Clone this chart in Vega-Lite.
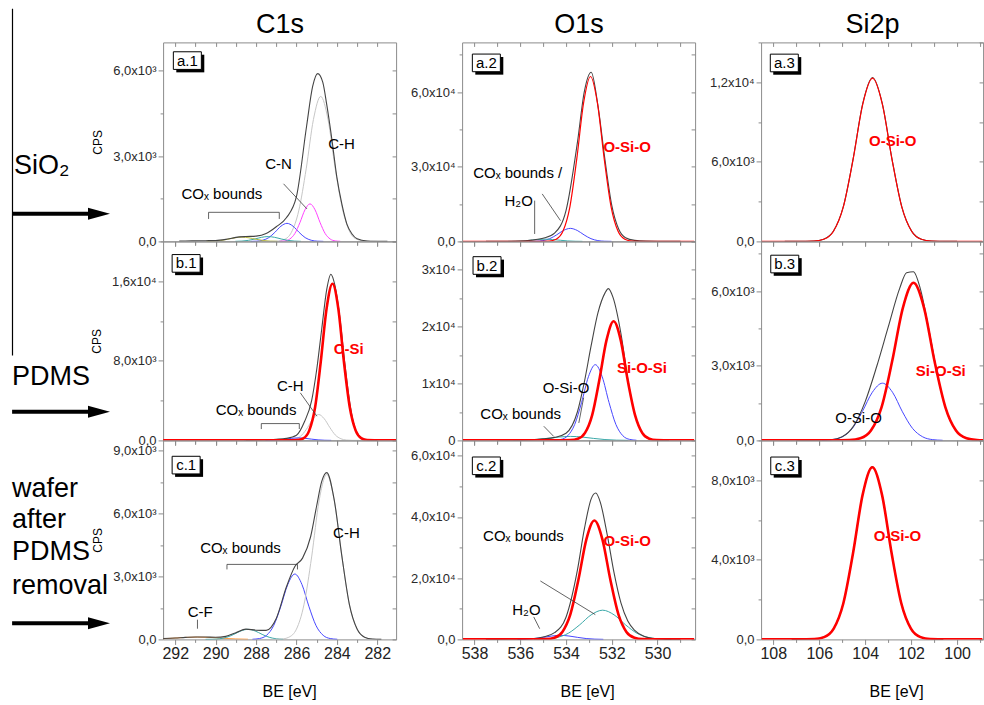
{
"$schema": "https://vega.github.io/schema/vega-lite/v6.json",
"padding": {"left": 10.1, "top": 7.4, "right": 0, "bottom": 0},
"background": "white",
"config": {
  "font": "Liberation Sans",
  "view": {"stroke": "#8c8c8c", "strokeWidth": 1},
  "axis": {"grid": false, "domain": false, "tickColor": "#8c8c8c", "tickWidth": 1, "labelFont": "Liberation Sans", "labelColor": "#2a2a2a", "labelFontSize": 13, "titleFont": "Liberation Sans", "titleFontWeight": "normal", "titleColor": "#000000", "labelOverlap": false, "labelFlush": false},
  "text": {"font": "Liberation Sans"}
},
"datasets": {
  "annot_segs": [
    {"r": "a", "k": "divider", "u": 0.0047, "v": 1.169, "u2": 0.0047, "v2": -0.574},
    {"r": "a", "k": "arrow", "u": 0, "v": 0.139, "u2": 0.944, "v2": 0.139},
    {"r": "b", "k": "arrow", "u": 0, "v": 0.144, "u2": 0.944, "v2": 0.144},
    {"r": "c", "k": "arrow", "u": 0, "v": 0.081, "u2": 0.944, "v2": 0.081}
  ],
  "annot_heads": [
    {"r": "a", "u": 1.027, "v": 0.139}, {"r": "b", "u": 1.027, "v": 0.144}, {"r": "c", "u": 1.027, "v": 0.081}
  ],
  "annot_text": [
    {"r": "a", "t": "SiO₂", "u": 0.0225, "v": 0.38},
    {"r": "b", "t": "PDMS", "u": 0, "v": 0.32},
    {"r": "c", "t": "wafer", "u": 0, "v": 0.757},
    {"r": "c", "t": "after", "u": 0, "v": 0.602},
    {"r": "c", "t": "PDMS", "u": 0, "v": 0.441},
    {"r": "c", "t": "removal", "u": 0, "v": 0.27}
  ],
  "labels": [
    {"p": "a1", "c": "note", "t": "C-H", "be": 283.77, "cps": 3413},
    {"p": "a1", "c": "note", "t": "C-N", "be": 286.89, "cps": 2731},
    {"p": "a1", "c": "note", "t": "COₓ bounds", "be": 289.69, "cps": 1673},
    {"p": "a2", "c": "fit", "t": "O-Si-O", "be": 531.33, "cps": 37850},
    {"p": "a2", "c": "note", "t": "COₓ bounds /", "be": 536.11, "cps": 27380},
    {"p": "a2", "c": "note", "t": "H₂O", "be": 536.07, "cps": 16390},
    {"p": "a3", "c": "fit", "t": "O-Si-O", "be": 102.8, "cps": 7600},
    {"p": "b1", "c": "fit", "t": "C-Si", "be": 283.42, "cps": 9170},
    {"p": "b1", "c": "note", "t": "C-H", "be": 286.31, "cps": 5460},
    {"p": "b1", "c": "note", "t": "COₓ bounds", "be": 288.0, "cps": 3100},
    {"p": "b2", "c": "fit", "t": "Si-O-Si", "be": 530.68, "cps": 12660},
    {"p": "b2", "c": "note", "t": "O-Si-O", "be": 534.0, "cps": 9290},
    {"p": "b2", "c": "note", "t": "COₓ bounds", "be": 535.98, "cps": 4560},
    {"p": "b3", "c": "fit", "t": "Si-O-Si", "be": 100.71, "cps": 2779},
    {"p": "b3", "c": "note", "t": "O-Si-O", "be": 104.29, "cps": 900},
    {"p": "c1", "c": "note", "t": "C-H", "be": 283.53, "cps": 5070},
    {"p": "c1", "c": "note", "t": "COₓ bounds", "be": 288.77, "cps": 4382},
    {"p": "c1", "c": "note", "t": "C-F", "be": 290.76, "cps": 1310},
    {"p": "c2", "c": "fit", "t": "O-Si-O", "be": 531.33, "cps": 32240},
    {"p": "c2", "c": "note", "t": "COₓ bounds", "be": 535.86, "cps": 33660},
    {"p": "c2", "c": "note", "t": "H₂O", "be": 535.73, "cps": 9740},
    {"p": "c3", "c": "fit", "t": "O-Si-O", "be": 102.6, "cps": 5207}
  ],
  "segs": [
    {"p": "a1", "be": 286.64, "cps": 2026, "be2": 285.48, "cps2": 1143},
    {"p": "a1", "be": 290.35, "cps": 1023, "be2": 286.85, "cps2": 1023},
    {"p": "a1", "be": 290.35, "cps": 1023, "be2": 290.35, "cps2": 790},
    {"p": "a1", "be": 286.85, "cps": 1023, "be2": 286.85, "cps2": 790},
    {"p": "a2", "be": 535.37, "cps": 16390, "be2": 535.37, "cps2": 2980},
    {"p": "a2", "be": 535.04, "cps": 19090, "be2": 534.24, "cps2": 8340},
    {"p": "b1", "be": 285.81, "cps": 4780, "be2": 284.99, "cps2": 2430},
    {"p": "b1", "be": 287.74, "cps": 1690, "be2": 285.86, "cps2": 1690},
    {"p": "b1", "be": 287.74, "cps": 1690, "be2": 287.74, "cps2": 1140},
    {"p": "b1", "be": 285.86, "cps": 1690, "be2": 285.86, "cps2": 1140},
    {"p": "b2", "be": 533.44, "cps": 3070, "be2": 533.23, "cps2": 7510},
    {"p": "b2", "be": 534.97, "cps": 2490, "be2": 534.54, "cps2": 710},
    {"p": "c1", "be": 289.44, "cps": 3580, "be2": 285.95, "cps2": 3580},
    {"p": "c1", "be": 289.44, "cps": 3580, "be2": 289.44, "cps2": 3340},
    {"p": "c1", "be": 285.95, "cps": 3580, "be2": 285.95, "cps2": 3340},
    {"p": "c1", "be": 290.9, "cps": 940, "be2": 290.9, "cps2": 510},
    {"p": "c2", "be": 535.12, "cps": 19080, "be2": 532.72, "cps2": 8090},
    {"p": "c2", "be": 535.41, "cps": 7340, "be2": 535.15, "cps2": 3490}
  ],
  "boxes": [
    {"p": "a1", "t": "a.1", "be": 291.4, "cps": 6360},
    {"p": "a2", "t": "a.2", "be": 537.48, "cps": 71760},
    {"p": "a3", "t": "a.3", "be": 107.52, "cps": 13450},
    {"p": "b1", "t": "b.1", "be": 291.46, "cps": 17790},
    {"p": "b2", "t": "b.2", "be": 537.45, "cps": 30760},
    {"p": "b3", "t": "b.3", "be": 107.5, "cps": 7090},
    {"p": "c1", "t": "c.1", "be": 291.46, "cps": 8320},
    {"p": "c2", "t": "c.2", "be": 537.48, "cps": 56700},
    {"p": "c3", "t": "c.3", "be": 107.5, "cps": 8720}
  ],
  "a1": [
    {"s": "ch", "be": 287.5, "cps": 0}, {"s": "ch", "be": 287.0, "cps": 10}, {"s": "ch", "be": 286.6, "cps": 70}, {"s": "ch", "be": 286.25, "cps": 320}, {"s": "ch", "be": 285.89, "cps": 1070}, {"s": "ch", "be": 285.52, "cps": 2550}, {"s": "ch", "be": 285.16, "cps": 4290}, {"s": "ch", "be": 284.8, "cps": 5100}, {"s": "ch", "be": 284.44, "cps": 4290}, {"s": "ch", "be": 284.08, "cps": 2550}, {"s": "ch", "be": 283.7, "cps": 1070}, {"s": "ch", "be": 283.35, "cps": 320}, {"s": "ch", "be": 283.0, "cps": 70}, {"s": "ch", "be": 282.6, "cps": 10}, {"s": "ch", "be": 282.0, "cps": 0},
    {"s": "blue", "be": 288.27, "cps": 1}, {"s": "blue", "be": 287.97, "cps": 8}, {"s": "blue", "be": 287.67, "cps": 40}, {"s": "blue", "be": 287.37, "cps": 133}, {"s": "blue", "be": 287.07, "cps": 318}, {"s": "blue", "be": 286.77, "cps": 534}, {"s": "blue", "be": 286.47, "cps": 635}, {"s": "blue", "be": 286.17, "cps": 534}, {"s": "blue", "be": 285.87, "cps": 318}, {"s": "blue", "be": 285.57, "cps": 133}, {"s": "blue", "be": 285.27, "cps": 40}, {"s": "blue", "be": 284.97, "cps": 8}, {"s": "blue", "be": 284.67, "cps": 1},
    {"s": "magenta", "be": 286.83, "cps": 3}, {"s": "magenta", "be": 286.58, "cps": 17}, {"s": "magenta", "be": 286.33, "cps": 83}, {"s": "magenta", "be": 286.08, "cps": 277}, {"s": "magenta", "be": 285.83, "cps": 660}, {"s": "magenta", "be": 285.58, "cps": 1110}, {"s": "magenta", "be": 285.33, "cps": 1320}, {"s": "magenta", "be": 285.08, "cps": 1110}, {"s": "magenta", "be": 284.83, "cps": 660}, {"s": "magenta", "be": 284.58, "cps": 277}, {"s": "magenta", "be": 284.33, "cps": 83}, {"s": "magenta", "be": 284.08, "cps": 17}, {"s": "magenta", "be": 283.83, "cps": 3},
    {"s": "teal", "be": 289.03, "cps": 2}, {"s": "teal", "be": 288.7, "cps": 11}, {"s": "teal", "be": 288.38, "cps": 36}, {"s": "teal", "be": 288.05, "cps": 85}, {"s": "teal", "be": 287.73, "cps": 143}, {"s": "teal", "be": 287.4, "cps": 170}, {"s": "teal", "be": 287.08, "cps": 143}, {"s": "teal", "be": 286.75, "cps": 85}, {"s": "teal", "be": 286.43, "cps": 36}, {"s": "teal", "be": 286.1, "cps": 11}, {"s": "teal", "be": 285.78, "cps": 2},
    {"s": "olive", "be": 290.45, "cps": 2}, {"s": "olive", "be": 290.1, "cps": 9}, {"s": "olive", "be": 289.75, "cps": 32}, {"s": "olive", "be": 289.4, "cps": 75}, {"s": "olive", "be": 289.05, "cps": 126}, {"s": "olive", "be": 288.7, "cps": 150}, {"s": "olive", "be": 288.35, "cps": 126}, {"s": "olive", "be": 288.0, "cps": 75}, {"s": "olive", "be": 287.65, "cps": 32}, {"s": "olive", "be": 287.3, "cps": 9}, {"s": "olive", "be": 286.95, "cps": 2},
    {"s": "env", "be": 291.8, "cps": 10}, {"s": "env", "be": 291.5, "cps": 15}, {"s": "env", "be": 291.0, "cps": 20}, {"s": "env", "be": 290.5, "cps": 25}, {"s": "env", "be": 290.0, "cps": 30}, {"s": "env", "be": 289.5, "cps": 70}, {"s": "env", "be": 289.0, "cps": 140}, {"s": "env", "be": 288.5, "cps": 170}, {"s": "env", "be": 288.0, "cps": 185}, {"s": "env", "be": 287.5, "cps": 275}, {"s": "env", "be": 287.0, "cps": 515}, {"s": "env", "be": 286.5, "cps": 830}, {"s": "env", "be": 286.0, "cps": 1580}, {"s": "env", "be": 285.5, "cps": 4050}, {"s": "env", "be": 285.2, "cps": 5450}, {"s": "env", "be": 284.95, "cps": 5900}, {"s": "env", "be": 284.7, "cps": 5600}, {"s": "env", "be": 284.5, "cps": 4800}, {"s": "env", "be": 284.25, "cps": 3600}, {"s": "env", "be": 284.0, "cps": 2250}, {"s": "env", "be": 283.75, "cps": 1300}, {"s": "env", "be": 283.5, "cps": 600}, {"s": "env", "be": 283.25, "cps": 260}, {"s": "env", "be": 283.0, "cps": 90}, {"s": "env", "be": 282.5, "cps": 15}, {"s": "env", "be": 282.0, "cps": 5}, {"s": "env", "be": 281.5, "cps": 0}
  ],
  "a2": [
    {"s": "blue", "be": 535.61, "cps": 10}, {"s": "blue", "be": 535.31, "cps": 70}, {"s": "blue", "be": 535.01, "cps": 327}, {"s": "blue", "be": 534.71, "cps": 1100}, {"s": "blue", "be": 534.41, "cps": 2620}, {"s": "blue", "be": 534.11, "cps": 4400}, {"s": "blue", "be": 533.81, "cps": 5235}, {"s": "blue", "be": 533.51, "cps": 4400}, {"s": "blue", "be": 533.21, "cps": 2620}, {"s": "blue", "be": 532.91, "cps": 1100}, {"s": "blue", "be": 532.61, "cps": 327}, {"s": "blue", "be": 532.31, "cps": 70}, {"s": "blue", "be": 532.01, "cps": 10},
    {"s": "teal", "be": 536.53, "cps": 12}, {"s": "teal", "be": 536.2, "cps": 56}, {"s": "teal", "be": 535.88, "cps": 189}, {"s": "teal", "be": 535.55, "cps": 450}, {"s": "teal", "be": 535.23, "cps": 757}, {"s": "teal", "be": 534.9, "cps": 900}, {"s": "teal", "be": 534.58, "cps": 757}, {"s": "teal", "be": 534.25, "cps": 450}, {"s": "teal", "be": 533.93, "cps": 189}, {"s": "teal", "be": 533.6, "cps": 56}, {"s": "teal", "be": 533.28, "cps": 12},
    {"s": "env", "be": 537.5, "cps": 20}, {"s": "env", "be": 537.0, "cps": 30}, {"s": "env", "be": 536.5, "cps": 60}, {"s": "env", "be": 536.0, "cps": 130}, {"s": "env", "be": 535.5, "cps": 520}, {"s": "env", "be": 535.0, "cps": 1250}, {"s": "env", "be": 534.5, "cps": 3360}, {"s": "env", "be": 534.0, "cps": 12400}, {"s": "env", "be": 533.5, "cps": 39900}, {"s": "env", "be": 533.2, "cps": 60200}, {"s": "env", "be": 532.9, "cps": 68000}, {"s": "env", "be": 532.6, "cps": 54300}, {"s": "env", "be": 532.3, "cps": 33000}, {"s": "env", "be": 532.0, "cps": 14500}, {"s": "env", "be": 531.7, "cps": 5000}, {"s": "env", "be": 531.4, "cps": 1500}, {"s": "env", "be": 531.0, "cps": 400}, {"s": "env", "be": 530.5, "cps": 100}, {"s": "env", "be": 530.0, "cps": 30}, {"s": "env", "be": 529.0, "cps": 10},
    {"s": "redthin", "be": 538.5, "cps": 0}, {"s": "redthin", "be": 535.5, "cps": 0}, {"s": "redthin", "be": 534.73, "cps": 129}, {"s": "redthin", "be": 534.43, "cps": 869}, {"s": "redthin", "be": 534.13, "cps": 4144}, {"s": "redthin", "be": 533.83, "cps": 13920}, {"s": "redthin", "be": 533.53, "cps": 33150}, {"s": "redthin", "be": 533.23, "cps": 55760}, {"s": "redthin", "be": 532.93, "cps": 66300}, {"s": "redthin", "be": 532.63, "cps": 55760}, {"s": "redthin", "be": 532.33, "cps": 33150}, {"s": "redthin", "be": 532.03, "cps": 13920}, {"s": "redthin", "be": 531.73, "cps": 4144}, {"s": "redthin", "be": 531.43, "cps": 869}, {"s": "redthin", "be": 531.13, "cps": 129}, {"s": "redthin", "be": 530.5, "cps": 0}, {"s": "redthin", "be": 528.4, "cps": 0}
  ],
  "a3": [
    {"s": "env", "be": 107.5, "cps": 0}, {"s": "env", "be": 107.0, "cps": 5}, {"s": "env", "be": 106.23, "cps": 30}, {"s": "env", "be": 105.805, "cps": 170}, {"s": "env", "be": 105.38, "cps": 780}, {"s": "env", "be": 104.955, "cps": 2600}, {"s": "env", "be": 104.53, "cps": 6180}, {"s": "env", "be": 104.105, "cps": 10400}, {"s": "env", "be": 103.68, "cps": 12350}, {"s": "env", "be": 103.255, "cps": 10380}, {"s": "env", "be": 102.83, "cps": 6170}, {"s": "env", "be": 102.405, "cps": 2590}, {"s": "env", "be": 101.98, "cps": 775}, {"s": "env", "be": 101.555, "cps": 165}, {"s": "env", "be": 101.13, "cps": 28}, {"s": "env", "be": 100.5, "cps": 3}, {"s": "env", "be": 100.0, "cps": 0},
    {"s": "redthin", "be": 108.5, "cps": 0}, {"s": "redthin", "be": 107.0, "cps": 0}, {"s": "redthin", "be": 106.23, "cps": 24}, {"s": "redthin", "be": 105.805, "cps": 161}, {"s": "redthin", "be": 105.38, "cps": 769}, {"s": "redthin", "be": 104.955, "cps": 2583}, {"s": "redthin", "be": 104.53, "cps": 6150}, {"s": "redthin", "be": 104.105, "cps": 10350}, {"s": "redthin", "be": 103.68, "cps": 12300}, {"s": "redthin", "be": 103.255, "cps": 10350}, {"s": "redthin", "be": 102.83, "cps": 6150}, {"s": "redthin", "be": 102.405, "cps": 2583}, {"s": "redthin", "be": 101.98, "cps": 769}, {"s": "redthin", "be": 101.555, "cps": 161}, {"s": "redthin", "be": 101.13, "cps": 24}, {"s": "redthin", "be": 100.4, "cps": 0}, {"s": "redthin", "be": 98.9, "cps": 0}
  ],
  "b1": [
    {"s": "ch", "be": 286.8, "cps": 0}, {"s": "ch", "be": 286.55, "cps": 5}, {"s": "ch", "be": 286.28, "cps": 34}, {"s": "ch", "be": 286.0, "cps": 163}, {"s": "ch", "be": 285.73, "cps": 546}, {"s": "ch", "be": 285.45, "cps": 1300}, {"s": "ch", "be": 285.18, "cps": 2187}, {"s": "ch", "be": 284.9, "cps": 2600}, {"s": "ch", "be": 284.63, "cps": 2187}, {"s": "ch", "be": 284.35, "cps": 1300}, {"s": "ch", "be": 284.08, "cps": 546}, {"s": "ch", "be": 283.8, "cps": 163}, {"s": "ch", "be": 283.53, "cps": 34}, {"s": "ch", "be": 283.25, "cps": 5}, {"s": "ch", "be": 282.9, "cps": 0},
    {"s": "blue", "be": 287.53, "cps": 3}, {"s": "blue", "be": 287.2, "cps": 16}, {"s": "blue", "be": 286.88, "cps": 53}, {"s": "blue", "be": 286.55, "cps": 125}, {"s": "blue", "be": 286.23, "cps": 210}, {"s": "blue", "be": 285.9, "cps": 250}, {"s": "blue", "be": 285.58, "cps": 210}, {"s": "blue", "be": 285.25, "cps": 125}, {"s": "blue", "be": 284.93, "cps": 53}, {"s": "blue", "be": 284.6, "cps": 16}, {"s": "blue", "be": 284.28, "cps": 3},
    {"s": "teal", "be": 288.6, "cps": 5}, {"s": "teal", "be": 288.25, "cps": 17}, {"s": "teal", "be": 287.9, "cps": 40}, {"s": "teal", "be": 287.55, "cps": 67}, {"s": "teal", "be": 287.2, "cps": 80}, {"s": "teal", "be": 286.85, "cps": 67}, {"s": "teal", "be": 286.5, "cps": 40}, {"s": "teal", "be": 286.15, "cps": 17}, {"s": "teal", "be": 285.8, "cps": 5},
    {"s": "env", "be": 288.5, "cps": 20}, {"s": "env", "be": 288.0, "cps": 35}, {"s": "env", "be": 287.5, "cps": 75}, {"s": "env", "be": 287.0, "cps": 115}, {"s": "env", "be": 286.5, "cps": 200}, {"s": "env", "be": 286.0, "cps": 520}, {"s": "env", "be": 285.6, "cps": 1900}, {"s": "env", "be": 285.25, "cps": 4000}, {"s": "env", "be": 285.0, "cps": 7100}, {"s": "env", "be": 284.75, "cps": 11200}, {"s": "env", "be": 284.5, "cps": 15200}, {"s": "env", "be": 284.3, "cps": 16700}, {"s": "env", "be": 284.1, "cps": 15600}, {"s": "env", "be": 283.85, "cps": 12300}, {"s": "env", "be": 283.6, "cps": 7600}, {"s": "env", "be": 283.35, "cps": 3600}, {"s": "env", "be": 283.1, "cps": 1200}, {"s": "env", "be": 282.8, "cps": 280}, {"s": "env", "be": 282.5, "cps": 50}, {"s": "env", "be": 282.0, "cps": 0},
    {"s": "redthick", "be": 292.6, "cps": 0}, {"s": "redthick", "be": 286.6, "cps": 0}, {"s": "redthick", "be": 285.95, "cps": 31}, {"s": "redthick", "be": 285.66, "cps": 206}, {"s": "redthick", "be": 285.37, "cps": 984}, {"s": "redthick", "be": 285.08, "cps": 3305}, {"s": "redthick", "be": 284.8, "cps": 7870}, {"s": "redthick", "be": 284.51, "cps": 13240}, {"s": "redthick", "be": 284.22, "cps": 15740}, {"s": "redthick", "be": 283.93, "cps": 13240}, {"s": "redthick", "be": 283.65, "cps": 7870}, {"s": "redthick", "be": 283.36, "cps": 3305}, {"s": "redthick", "be": 283.07, "cps": 984}, {"s": "redthick", "be": 282.78, "cps": 206}, {"s": "redthick", "be": 282.5, "cps": 31}, {"s": "redthick", "be": 281.8, "cps": 0}, {"s": "redthick", "be": 281.07, "cps": 0}
  ],
  "b2": [
    {"s": "teal", "be": 536.3, "cps": 9}, {"s": "teal", "be": 535.8, "cps": 44}, {"s": "teal", "be": 535.3, "cps": 147}, {"s": "teal", "be": 534.8, "cps": 350}, {"s": "teal", "be": 534.3, "cps": 589}, {"s": "teal", "be": 533.8, "cps": 700}, {"s": "teal", "be": 533.3, "cps": 589}, {"s": "teal", "be": 532.8, "cps": 350}, {"s": "teal", "be": 532.3, "cps": 147}, {"s": "teal", "be": 531.8, "cps": 44}, {"s": "teal", "be": 531.3, "cps": 9},
    {"s": "blue", "be": 534.52, "cps": 26}, {"s": "blue", "be": 534.22, "cps": 175}, {"s": "blue", "be": 533.92, "cps": 833}, {"s": "blue", "be": 533.62, "cps": 2800}, {"s": "blue", "be": 533.32, "cps": 6660}, {"s": "blue", "be": 533.02, "cps": 11200}, {"s": "blue", "be": 532.72, "cps": 13320}, {"s": "blue", "be": 532.42, "cps": 11200}, {"s": "blue", "be": 532.12, "cps": 6660}, {"s": "blue", "be": 531.82, "cps": 2800}, {"s": "blue", "be": 531.52, "cps": 833}, {"s": "blue", "be": 531.22, "cps": 175}, {"s": "blue", "be": 530.92, "cps": 26},
    {"s": "env", "be": 537.0, "cps": 15}, {"s": "env", "be": 536.5, "cps": 25}, {"s": "env", "be": 536.0, "cps": 45}, {"s": "env", "be": 535.5, "cps": 110}, {"s": "env", "be": 535.0, "cps": 270}, {"s": "env", "be": 534.5, "cps": 530}, {"s": "env", "be": 534.0, "cps": 1260}, {"s": "env", "be": 533.5, "cps": 5040}, {"s": "env", "be": 533.2, "cps": 10250}, {"s": "env", "be": 532.9, "cps": 16700}, {"s": "env", "be": 532.6, "cps": 22500}, {"s": "env", "be": 532.3, "cps": 25900}, {"s": "env", "be": 532.15, "cps": 26700}, {"s": "env", "be": 531.95, "cps": 25200}, {"s": "env", "be": 531.6, "cps": 18800}, {"s": "env", "be": 531.3, "cps": 10800}, {"s": "env", "be": 531.0, "cps": 4700}, {"s": "env", "be": 530.7, "cps": 1500}, {"s": "env", "be": 530.4, "cps": 350}, {"s": "env", "be": 530.0, "cps": 40}, {"s": "env", "be": 529.5, "cps": 10},
    {"s": "redthick", "be": 538.5, "cps": 0}, {"s": "redthick", "be": 534.5, "cps": 0}, {"s": "redthick", "be": 533.8, "cps": 41}, {"s": "redthick", "be": 533.48, "cps": 275}, {"s": "redthick", "be": 533.17, "cps": 1310}, {"s": "redthick", "be": 532.86, "cps": 4400}, {"s": "redthick", "be": 532.55, "cps": 10480}, {"s": "redthick", "be": 532.23, "cps": 17630}, {"s": "redthick", "be": 531.92, "cps": 20960}, {"s": "redthick", "be": 531.61, "cps": 17630}, {"s": "redthick", "be": 531.3, "cps": 10480}, {"s": "redthick", "be": 530.98, "cps": 4400}, {"s": "redthick", "be": 530.67, "cps": 1310}, {"s": "redthick", "be": 530.36, "cps": 275}, {"s": "redthick", "be": 530.05, "cps": 41}, {"s": "redthick", "be": 529.4, "cps": 0}, {"s": "redthick", "be": 528.4, "cps": 0}
  ],
  "b3": [
    {"s": "blue", "be": 105.88, "cps": 4}, {"s": "blue", "be": 105.44, "cps": 30}, {"s": "blue", "be": 105.0, "cps": 144}, {"s": "blue", "be": 104.56, "cps": 483}, {"s": "blue", "be": 104.13, "cps": 1150}, {"s": "blue", "be": 103.69, "cps": 1934}, {"s": "blue", "be": 103.25, "cps": 2300}, {"s": "blue", "be": 102.81, "cps": 1934}, {"s": "blue", "be": 102.38, "cps": 1150}, {"s": "blue", "be": 101.94, "cps": 483}, {"s": "blue", "be": 101.5, "cps": 144}, {"s": "blue", "be": 101.06, "cps": 30}, {"s": "blue", "be": 100.63, "cps": 4},
    {"s": "env", "be": 107.0, "cps": 0}, {"s": "env", "be": 106.0, "cps": 5}, {"s": "env", "be": 105.5, "cps": 24}, {"s": "env", "be": 105.0, "cps": 147}, {"s": "env", "be": 104.5, "cps": 585}, {"s": "env", "be": 104.0, "cps": 1560}, {"s": "env", "be": 103.5, "cps": 2970}, {"s": "env", "be": 103.0, "cps": 4550}, {"s": "env", "be": 102.5, "cps": 6110}, {"s": "env", "be": 102.2, "cps": 6740}, {"s": "env", "be": 101.9, "cps": 6780}, {"s": "env", "be": 101.6, "cps": 6090}, {"s": "env", "be": 101.2, "cps": 4310}, {"s": "env", "be": 100.8, "cps": 2380}, {"s": "env", "be": 100.4, "cps": 1020}, {"s": "env", "be": 100.0, "cps": 340}, {"s": "env", "be": 99.5, "cps": 60}, {"s": "env", "be": 99.0, "cps": 5},
    {"s": "redthick", "be": 108.5, "cps": 0}, {"s": "redthick", "be": 105.4, "cps": 0}, {"s": "redthick", "be": 104.68, "cps": 12}, {"s": "redthick", "be": 104.21, "cps": 83}, {"s": "redthick", "be": 103.75, "cps": 396}, {"s": "redthick", "be": 103.29, "cps": 1330}, {"s": "redthick", "be": 102.83, "cps": 3168}, {"s": "redthick", "be": 102.36, "cps": 5330}, {"s": "redthick", "be": 101.9, "cps": 6335}, {"s": "redthick", "be": 101.44, "cps": 5330}, {"s": "redthick", "be": 100.98, "cps": 3168}, {"s": "redthick", "be": 100.51, "cps": 1330}, {"s": "redthick", "be": 100.05, "cps": 396}, {"s": "redthick", "be": 99.59, "cps": 83}, {"s": "redthick", "be": 99.13, "cps": 12}, {"s": "redthick", "be": 98.87, "cps": 3}
  ],
  "c1": [
    {"s": "orange", "be": 292.6, "cps": 31}, {"s": "orange", "be": 292.15, "cps": 55}, {"s": "orange", "be": 291.53, "cps": 93}, {"s": "orange", "be": 290.9, "cps": 110}, {"s": "orange", "be": 290.28, "cps": 93}, {"s": "orange", "be": 289.65, "cps": 55}, {"s": "orange", "be": 289.03, "cps": 23}, {"s": "orange", "be": 288.4, "cps": 7},
    {"s": "teal", "be": 290.5, "cps": 1}, {"s": "teal", "be": 290.15, "cps": 6}, {"s": "teal", "be": 289.8, "cps": 30}, {"s": "teal", "be": 289.45, "cps": 101}, {"s": "teal", "be": 289.1, "cps": 240}, {"s": "teal", "be": 288.75, "cps": 404}, {"s": "teal", "be": 288.4, "cps": 480}, {"s": "teal", "be": 288.05, "cps": 404}, {"s": "teal", "be": 287.7, "cps": 240}, {"s": "teal", "be": 287.35, "cps": 101}, {"s": "teal", "be": 287.0, "cps": 30}, {"s": "teal", "be": 286.65, "cps": 6},
    {"s": "blue", "be": 288.18, "cps": 6}, {"s": "blue", "be": 287.83, "cps": 41}, {"s": "blue", "be": 287.48, "cps": 195}, {"s": "blue", "be": 287.13, "cps": 655}, {"s": "blue", "be": 286.78, "cps": 1560}, {"s": "blue", "be": 286.43, "cps": 2624}, {"s": "blue", "be": 286.08, "cps": 3120}, {"s": "blue", "be": 285.73, "cps": 2624}, {"s": "blue", "be": 285.38, "cps": 1560}, {"s": "blue", "be": 285.03, "cps": 655}, {"s": "blue", "be": 284.68, "cps": 195}, {"s": "blue", "be": 284.33, "cps": 41}, {"s": "blue", "be": 283.98, "cps": 6},
    {"s": "ch", "be": 287.2, "cps": 0}, {"s": "ch", "be": 286.75, "cps": 15}, {"s": "ch", "be": 286.38, "cps": 103}, {"s": "ch", "be": 286.0, "cps": 492}, {"s": "ch", "be": 285.63, "cps": 1653}, {"s": "ch", "be": 285.25, "cps": 3935}, {"s": "ch", "be": 284.88, "cps": 6620}, {"s": "ch", "be": 284.5, "cps": 7870}, {"s": "ch", "be": 284.13, "cps": 6620}, {"s": "ch", "be": 283.75, "cps": 3935}, {"s": "ch", "be": 283.38, "cps": 1653}, {"s": "ch", "be": 283.0, "cps": 492}, {"s": "ch", "be": 282.63, "cps": 103}, {"s": "ch", "be": 282.25, "cps": 15}, {"s": "ch", "be": 281.8, "cps": 0},
    {"s": "env", "be": 292.6, "cps": 40}, {"s": "env", "be": 292.0, "cps": 65}, {"s": "env", "be": 291.5, "cps": 95}, {"s": "env", "be": 291.0, "cps": 115}, {"s": "env", "be": 290.5, "cps": 112}, {"s": "env", "be": 290.0, "cps": 100}, {"s": "env", "be": 289.5, "cps": 145}, {"s": "env", "be": 289.0, "cps": 320}, {"s": "env", "be": 288.5, "cps": 490}, {"s": "env", "be": 288.0, "cps": 440}, {"s": "env", "be": 287.5, "cps": 430}, {"s": "env", "be": 287.0, "cps": 1000}, {"s": "env", "be": 286.5, "cps": 2500}, {"s": "env", "be": 286.08, "cps": 3480}, {"s": "env", "be": 285.7, "cps": 3880}, {"s": "env", "be": 285.3, "cps": 4900}, {"s": "env", "be": 285.0, "cps": 6380}, {"s": "env", "be": 284.75, "cps": 7540}, {"s": "env", "be": 284.5, "cps": 7960}, {"s": "env", "be": 284.13, "cps": 6650}, {"s": "env", "be": 283.75, "cps": 3950}, {"s": "env", "be": 283.38, "cps": 1660}, {"s": "env", "be": 283.0, "cps": 495}, {"s": "env", "be": 282.63, "cps": 105}, {"s": "env", "be": 282.25, "cps": 16}, {"s": "env", "be": 281.8, "cps": 0}
  ],
  "c2": [
    {"s": "blue", "be": 536.12, "cps": 17}, {"s": "blue", "be": 535.74, "cps": 82}, {"s": "blue", "be": 535.37, "cps": 276}, {"s": "blue", "be": 534.99, "cps": 658}, {"s": "blue", "be": 534.62, "cps": 1107}, {"s": "blue", "be": 534.24, "cps": 1316}, {"s": "blue", "be": 533.87, "cps": 1107}, {"s": "blue", "be": 533.49, "cps": 658}, {"s": "blue", "be": 533.12, "cps": 276}, {"s": "blue", "be": 532.74, "cps": 82}, {"s": "blue", "be": 532.37, "cps": 17},
    {"s": "teal", "be": 535.4, "cps": 19}, {"s": "teal", "be": 534.9, "cps": 125}, {"s": "teal", "be": 534.4, "cps": 596}, {"s": "teal", "be": 533.9, "cps": 2003}, {"s": "teal", "be": 533.4, "cps": 4770}, {"s": "teal", "be": 532.9, "cps": 8023}, {"s": "teal", "be": 532.4, "cps": 9540}, {"s": "teal", "be": 531.9, "cps": 8023}, {"s": "teal", "be": 531.4, "cps": 4770}, {"s": "teal", "be": 530.9, "cps": 2003}, {"s": "teal", "be": 530.4, "cps": 596}, {"s": "teal", "be": 529.9, "cps": 125}, {"s": "teal", "be": 529.4, "cps": 19},
    {"s": "env", "be": 537.5, "cps": 10}, {"s": "env", "be": 537.0, "cps": 15}, {"s": "env", "be": 536.5, "cps": 22}, {"s": "env", "be": 536.0, "cps": 40}, {"s": "env", "be": 535.5, "cps": 200}, {"s": "env", "be": 535.0, "cps": 770}, {"s": "env", "be": 534.5, "cps": 2200}, {"s": "env", "be": 534.0, "cps": 7250}, {"s": "env", "be": 533.5, "cps": 22700}, {"s": "env", "be": 533.2, "cps": 36000}, {"s": "env", "be": 532.9, "cps": 45900}, {"s": "env", "be": 532.7, "cps": 47800}, {"s": "env", "be": 532.5, "cps": 44750}, {"s": "env", "be": 532.2, "cps": 34200}, {"s": "env", "be": 531.9, "cps": 21700}, {"s": "env", "be": 531.6, "cps": 11900}, {"s": "env", "be": 531.3, "cps": 6000}, {"s": "env", "be": 531.0, "cps": 2950}, {"s": "env", "be": 530.6, "cps": 1060}, {"s": "env", "be": 530.2, "cps": 330}, {"s": "env", "be": 529.8, "cps": 90}, {"s": "env", "be": 529.4, "cps": 20}, {"s": "env", "be": 529.0, "cps": 5},
    {"s": "redthick", "be": 538.5, "cps": 0}, {"s": "redthick", "be": 535.6, "cps": 0}, {"s": "redthick", "be": 534.86, "cps": 76}, {"s": "redthick", "be": 534.51, "cps": 509}, {"s": "redthick", "be": 534.16, "cps": 2426}, {"s": "redthick", "be": 533.81, "cps": 8150}, {"s": "redthick", "be": 533.46, "cps": 19410}, {"s": "redthick", "be": 533.11, "cps": 32650}, {"s": "redthick", "be": 532.76, "cps": 38820}, {"s": "redthick", "be": 532.41, "cps": 32650}, {"s": "redthick", "be": 532.06, "cps": 19410}, {"s": "redthick", "be": 531.71, "cps": 8150}, {"s": "redthick", "be": 531.36, "cps": 2426}, {"s": "redthick", "be": 531.01, "cps": 509}, {"s": "redthick", "be": 530.66, "cps": 76}, {"s": "redthick", "be": 529.9, "cps": 0}, {"s": "redthick", "be": 528.4, "cps": 0}
  ],
  "c3": [
    {"s": "env", "be": 107.2, "cps": 0}, {"s": "env", "be": 106.21, "cps": 20}, {"s": "env", "be": 105.79, "cps": 118}, {"s": "env", "be": 105.37, "cps": 550}, {"s": "env", "be": 104.95, "cps": 1830}, {"s": "env", "be": 104.53, "cps": 4340}, {"s": "env", "be": 104.11, "cps": 7290}, {"s": "env", "be": 103.69, "cps": 8680}, {"s": "env", "be": 103.27, "cps": 7290}, {"s": "env", "be": 102.85, "cps": 4340}, {"s": "env", "be": 102.43, "cps": 1830}, {"s": "env", "be": 102.01, "cps": 550}, {"s": "env", "be": 101.59, "cps": 118}, {"s": "env", "be": 101.17, "cps": 20}, {"s": "env", "be": 100.6, "cps": 0},
    {"s": "redthick", "be": 108.5, "cps": 0}, {"s": "redthick", "be": 106.9, "cps": 0}, {"s": "redthick", "be": 106.21, "cps": 17}, {"s": "redthick", "be": 105.79, "cps": 113}, {"s": "redthick", "be": 105.37, "cps": 541}, {"s": "redthick", "be": 104.95, "cps": 1817}, {"s": "redthick", "be": 104.53, "cps": 4325}, {"s": "redthick", "be": 104.11, "cps": 7275}, {"s": "redthick", "be": 103.69, "cps": 8650}, {"s": "redthick", "be": 103.27, "cps": 7275}, {"s": "redthick", "be": 102.85, "cps": 4325}, {"s": "redthick", "be": 102.43, "cps": 1817}, {"s": "redthick", "be": 102.01, "cps": 541}, {"s": "redthick", "be": 101.59, "cps": 113}, {"s": "redthick", "be": 101.17, "cps": 17}, {"s": "redthick", "be": 100.5, "cps": 0}, {"s": "redthick", "be": 98.9, "cps": 0}
  ]
},
"columns": 4,
"spacing": {"row": 0, "column": 66},
"bounds": "flush",
"concat": [
  {
    "width": 84.6, "height": 199, "view": {"stroke": null},
    "encoding": {
      "x": {"field": "u", "type": "quantitative", "scale": {"domain": [0, 1], "nice": false, "zero": false}, "axis": null},
      "y": {"field": "v", "type": "quantitative", "scale": {"domain": [0, 1], "nice": false, "zero": false}, "axis": null}
    },
    "layer": [
      {"data": {"name": "annot_segs"}, "transform": [{"filter": "datum.r == 'a' && datum.k == 'divider'"}], "mark": {"type": "rule", "color": "#000000", "strokeWidth": 1.2}, "encoding": {"x2": {"field": "u2"}, "y2": {"field": "v2"}}},
      {"data": {"name": "annot_segs"}, "transform": [{"filter": "datum.r == 'a' && datum.k == 'arrow'"}], "mark": {"type": "rule", "color": "#000000", "strokeWidth": 4}, "encoding": {"x2": {"field": "u2"}, "y2": {"field": "v2"}}},
      {"data": {"name": "annot_heads"}, "transform": [{"filter": "datum.r == 'a'"}], "mark": {"type": "point", "shape": "M-1,-0.55L1,0L-1,0.55Z", "size": 484, "filled": true, "color": "#000000", "opacity": 1}},
      {"data": {"name": "annot_text"}, "transform": [{"filter": "datum.r == 'a'"}], "mark": {"type": "text", "fontSize": 27, "align": "left", "baseline": "middle", "color": "#000000"}, "encoding": {"text": {"field": "t"}}}
    ]
  },
  {
    "width": 233, "height": 199,
    "layer": [
      {
        "encoding": {
          "x": {"field": "be", "type": "quantitative", "scale": {"domain": [281.07, 292.6], "reverse": true, "nice": false, "zero": false}, "axis": {"values": [282,283,284,285,286,287,288,289,290,291,292], "labels": false, "title": null, "tickSize": {"condition": {"test": "datum.value % 2 != 0", "value": 3}, "value": 5}}},
          "y": {"field": "cps", "type": "quantitative", "scale": {"domain": [0, 7000], "nice": false, "zero": false}, "axis": {"values": [0,1500,3000,4500,6000], "labelExpr": "datum.value == 0 ? '0,0' : datum.value == 3000 ? '3,0x10³' : datum.value == 6000 ? '6,0x10³' : ''", "tickSize": {"condition": {"test": "datum.value % 3000 != 0", "value": 3}, "value": 5}, "labelPadding": 2, "title": "CPS", "titleFontSize": 12, "titlePadding": 8}}
        },
        "layer": [
          {"data": {"name": "a1"}, "mark": {"type": "line", "interpolate": "monotone", "clip": true}, "encoding": {"color": {"field": "s", "type": "nominal", "legend": null, "scale": {"domain": ["ch","blue","magenta","teal","olive","orange","env","redthin","redthick"], "range": ["#c6c6c6","#4646ff","#ff40ff","#3aa8a8","#b8b83c","#ff9a3c","#444444","#ff0000","#ff0000"]}}, "strokeWidth": {"field": "s", "type": "nominal", "legend": null, "scale": {"type": "ordinal", "domain": ["ch","blue","magenta","teal","olive","orange","env","redthin","redthick"], "range": [1,1,1,1,1,1,1.1,1.2,2.6]}}}},
          {"data": {"name": "segs"}, "transform": [{"filter": "datum.p == 'a1'"}], "mark": {"type": "rule", "color": "#3c3c3c", "strokeWidth": 0.8}, "encoding": {"x2": {"field": "be2"}, "y2": {"field": "cps2"}}},
          {"data": {"name": "labels"}, "transform": [{"filter": "datum.p == 'a1' && datum.c == 'note'"}], "mark": {"type": "text", "fontSize": 15, "color": "#000000", "align": "center", "baseline": "middle"}, "encoding": {"text": {"field": "t"}}},
          {"data": {"name": "boxes"}, "transform": [{"filter": "datum.p == 'a1'"}], "mark": {"type": "point", "shape": "M-0.79,-0.42L1.21,-0.42L1.21,0.84L-0.79,0.84Z", "size": 784, "filled": true, "color": "#000000", "opacity": 1, "strokeWidth": 0}},
          {"data": {"name": "boxes"}, "transform": [{"filter": "datum.p == 'a1'"}], "mark": {"type": "point", "shape": "M-1,-0.63L1,-0.63L1,0.63L-1,0.63Z", "size": 784, "filled": true, "fill": "#ffffff", "stroke": "#000000", "strokeWidth": 1, "opacity": 1}},
          {"data": {"name": "boxes"}, "transform": [{"filter": "datum.p == 'a1'"}], "mark": {"type": "text", "fontSize": 15, "color": "#000000", "align": "center", "baseline": "middle"}, "encoding": {"text": {"field": "t"}}}
        ]
      },
      {
        "data": {"values": [{}]},
        "mark": {"type": "point", "opacity": 0},
        "encoding": {
          "x": {"datum": 290, "type": "quantitative", "scale": {"domain": [281.07, 292.6], "reverse": true, "nice": false, "zero": false}, "axis": {"orient": "top", "values": [282,283,284,285,286,287,288,289,290,291,292], "labels": false, "tickSize": -4, "title": "C1s", "titleFontSize": 27, "titlePadding": 9, "titleBaseline": "alphabetic"}},
          "y": {"datum": 0, "type": "quantitative", "scale": {"domain": [0, 7000], "nice": false, "zero": false}, "axis": {"orient": "right", "values": [0,1500,3000,4500,6000], "labels": false, "title": null, "tickSize": -4}}
        }
      }
    ],
    "resolve": {"axis": {"x": "independent", "y": "independent"}}
  },
  {
    "width": 233, "height": 199,
    "layer": [
      {
        "encoding": {
          "x": {"field": "be", "type": "quantitative", "scale": {"domain": [528.36, 538.54], "reverse": true, "nice": false, "zero": false}, "axis": {"values": [529,530,531,532,533,534,535,536,537,538], "labels": false, "title": null, "tickSize": {"condition": {"test": "datum.value % 2 != 0", "value": 3}, "value": 5}}},
          "y": {"field": "cps", "type": "quantitative", "scale": {"domain": [0, 80000], "nice": false, "zero": false}, "axis": {"values": [0,15000,30000,45000,60000,75000], "labelExpr": "datum.value == 0 ? '0,0' : datum.value == 30000 ? '3,0x10⁴' : datum.value == 60000 ? '6,0x10⁴' : ''", "tickSize": {"condition": {"test": "datum.value % 30000 != 0", "value": 3}, "value": 5}, "labelPadding": 2, "title": null}}
        },
        "layer": [
          {"data": {"name": "a2"}, "mark": {"type": "line", "interpolate": "monotone", "clip": true}, "encoding": {"color": {"field": "s", "type": "nominal", "legend": null, "scale": {"domain": ["ch","blue","magenta","teal","olive","orange","env","redthin","redthick"], "range": ["#c6c6c6","#4646ff","#ff40ff","#3aa8a8","#b8b83c","#ff9a3c","#444444","#ff0000","#ff0000"]}}, "strokeWidth": {"field": "s", "type": "nominal", "legend": null, "scale": {"type": "ordinal", "domain": ["ch","blue","magenta","teal","olive","orange","env","redthin","redthick"], "range": [1,1,1,1,1,1,1.1,1.2,2.6]}}}},
          {"data": {"name": "segs"}, "transform": [{"filter": "datum.p == 'a2'"}], "mark": {"type": "rule", "color": "#3c3c3c", "strokeWidth": 0.8}, "encoding": {"x2": {"field": "be2"}, "y2": {"field": "cps2"}}},
          {"data": {"name": "labels"}, "transform": [{"filter": "datum.p == 'a2' && datum.c == 'note'"}], "mark": {"type": "text", "fontSize": 15, "color": "#000000", "align": "center", "baseline": "middle"}, "encoding": {"text": {"field": "t"}}},
          {"data": {"name": "labels"}, "transform": [{"filter": "datum.p == 'a2' && datum.c == 'fit'"}], "mark": {"type": "text", "fontSize": 15, "fontWeight": "bold", "color": "#ff0000", "align": "center", "baseline": "middle"}, "encoding": {"text": {"field": "t"}}},
          {"data": {"name": "boxes"}, "transform": [{"filter": "datum.p == 'a2'"}], "mark": {"type": "point", "shape": "M-0.79,-0.42L1.21,-0.42L1.21,0.84L-0.79,0.84Z", "size": 784, "filled": true, "color": "#000000", "opacity": 1, "strokeWidth": 0}},
          {"data": {"name": "boxes"}, "transform": [{"filter": "datum.p == 'a2'"}], "mark": {"type": "point", "shape": "M-1,-0.63L1,-0.63L1,0.63L-1,0.63Z", "size": 784, "filled": true, "fill": "#ffffff", "stroke": "#000000", "strokeWidth": 1, "opacity": 1}},
          {"data": {"name": "boxes"}, "transform": [{"filter": "datum.p == 'a2'"}], "mark": {"type": "text", "fontSize": 15, "color": "#000000", "align": "center", "baseline": "middle"}, "encoding": {"text": {"field": "t"}}}
        ]
      },
      {
        "data": {"values": [{}]},
        "mark": {"type": "point", "opacity": 0},
        "encoding": {
          "x": {"datum": 535, "type": "quantitative", "scale": {"domain": [528.36, 538.54], "reverse": true, "nice": false, "zero": false}, "axis": {"orient": "top", "values": [529,530,531,532,533,534,535,536,537,538], "labels": false, "tickSize": -4, "title": "O1s", "titleFontSize": 27, "titlePadding": 9, "titleBaseline": "alphabetic"}},
          "y": {"datum": 0, "type": "quantitative", "scale": {"domain": [0, 80000], "nice": false, "zero": false}, "axis": {"orient": "right", "values": [0,15000,30000,45000,60000,75000], "labels": false, "title": null, "tickSize": -4}}
        }
      }
    ],
    "resolve": {"axis": {"x": "independent", "y": "independent"}}
  },
  {
    "width": 222, "height": 199,
    "layer": [
      {
        "encoding": {
          "x": {"field": "be", "type": "quantitative", "scale": {"domain": [98.87, 108.53], "reverse": true, "nice": false, "zero": false}, "axis": {"values": [99,100,101,102,103,104,105,106,107,108], "labels": false, "title": null, "tickSize": {"condition": {"test": "datum.value % 2 != 0", "value": 3}, "value": 5}}},
          "y": {"field": "cps", "type": "quantitative", "scale": {"domain": [0, 15000], "nice": false, "zero": false}, "axis": {"values": [0,3000,6000,9000,12000,15000], "labelExpr": "datum.value == 0 ? '0,0' : datum.value == 6000 ? '6,0x10³' : datum.value == 12000 ? '1,2x10⁴' : ''", "tickSize": {"condition": {"test": "datum.value % 6000 != 0", "value": 3}, "value": 5}, "labelPadding": 2, "title": null}}
        },
        "layer": [
          {"data": {"name": "a3"}, "mark": {"type": "line", "interpolate": "monotone", "clip": true}, "encoding": {"color": {"field": "s", "type": "nominal", "legend": null, "scale": {"domain": ["ch","blue","magenta","teal","olive","orange","env","redthin","redthick"], "range": ["#c6c6c6","#4646ff","#ff40ff","#3aa8a8","#b8b83c","#ff9a3c","#444444","#ff0000","#ff0000"]}}, "strokeWidth": {"field": "s", "type": "nominal", "legend": null, "scale": {"type": "ordinal", "domain": ["ch","blue","magenta","teal","olive","orange","env","redthin","redthick"], "range": [1,1,1,1,1,1,1.1,1.2,2.6]}}}},
          {"data": {"name": "labels"}, "transform": [{"filter": "datum.p == 'a3' && datum.c == 'fit'"}], "mark": {"type": "text", "fontSize": 15, "fontWeight": "bold", "color": "#ff0000", "align": "center", "baseline": "middle"}, "encoding": {"text": {"field": "t"}}},
          {"data": {"name": "boxes"}, "transform": [{"filter": "datum.p == 'a3'"}], "mark": {"type": "point", "shape": "M-0.79,-0.42L1.21,-0.42L1.21,0.84L-0.79,0.84Z", "size": 784, "filled": true, "color": "#000000", "opacity": 1, "strokeWidth": 0}},
          {"data": {"name": "boxes"}, "transform": [{"filter": "datum.p == 'a3'"}], "mark": {"type": "point", "shape": "M-1,-0.63L1,-0.63L1,0.63L-1,0.63Z", "size": 784, "filled": true, "fill": "#ffffff", "stroke": "#000000", "strokeWidth": 1, "opacity": 1}},
          {"data": {"name": "boxes"}, "transform": [{"filter": "datum.p == 'a3'"}], "mark": {"type": "text", "fontSize": 15, "color": "#000000", "align": "center", "baseline": "middle"}, "encoding": {"text": {"field": "t"}}}
        ]
      },
      {
        "data": {"values": [{}]},
        "mark": {"type": "point", "opacity": 0},
        "encoding": {
          "x": {"datum": 104, "type": "quantitative", "scale": {"domain": [98.87, 108.53], "reverse": true, "nice": false, "zero": false}, "axis": {"orient": "top", "values": [99,100,101,102,103,104,105,106,107,108], "labels": false, "tickSize": -4, "title": "Si2p", "titleFontSize": 27, "titlePadding": 9, "titleBaseline": "alphabetic"}},
          "y": {"datum": 0, "type": "quantitative", "scale": {"domain": [0, 15000], "nice": false, "zero": false}, "axis": {"orient": "right", "values": [0,3000,6000,9000,12000,15000], "labels": false, "title": null, "tickSize": -4}}
        }
      }
    ],
    "resolve": {"axis": {"x": "independent", "y": "independent"}}
  },
  {
    "width": 84.6, "height": 199, "view": {"stroke": null},
    "encoding": {
      "x": {"field": "u", "type": "quantitative", "scale": {"domain": [0, 1], "nice": false, "zero": false}, "axis": null},
      "y": {"field": "v", "type": "quantitative", "scale": {"domain": [0, 1], "nice": false, "zero": false}, "axis": null}
    },
    "layer": [
      {"data": {"name": "annot_segs"}, "transform": [{"filter": "datum.r == 'b' && datum.k == 'arrow'"}], "mark": {"type": "rule", "color": "#000000", "strokeWidth": 4}, "encoding": {"x2": {"field": "u2"}, "y2": {"field": "v2"}}},
      {"data": {"name": "annot_heads"}, "transform": [{"filter": "datum.r == 'b'"}], "mark": {"type": "point", "shape": "M-1,-0.55L1,0L-1,0.55Z", "size": 484, "filled": true, "color": "#000000", "opacity": 1}},
      {"data": {"name": "annot_text"}, "transform": [{"filter": "datum.r == 'b'"}], "mark": {"type": "text", "fontSize": 27, "align": "left", "baseline": "middle", "color": "#000000"}, "encoding": {"text": {"field": "t"}}}
    ]
  },
  {
    "width": 233, "height": 199,
    "layer": [
      {
        "encoding": {
          "x": {"field": "be", "type": "quantitative", "scale": {"domain": [281.07, 292.6], "reverse": true, "nice": false, "zero": false}, "axis": {"values": [282,283,284,285,286,287,288,289,290,291,292], "labels": false, "title": null, "tickSize": {"condition": {"test": "datum.value % 2 != 0", "value": 3}, "value": 5}}},
          "y": {"field": "cps", "type": "quantitative", "scale": {"domain": [0, 20000], "nice": false, "zero": false}, "axis": {"values": [0,4000,8000,12000,16000,20000], "labelExpr": "datum.value == 0 ? '0,0' : datum.value == 8000 ? '8,0x10³' : datum.value == 16000 ? '1,6x10⁴' : ''", "tickSize": {"condition": {"test": "datum.value % 8000 != 0", "value": 3}, "value": 5}, "labelPadding": 2, "title": "CPS", "titleFontSize": 12, "titlePadding": 8}}
        },
        "layer": [
          {"data": {"name": "b1"}, "mark": {"type": "line", "interpolate": "monotone", "clip": true}, "encoding": {"color": {"field": "s", "type": "nominal", "legend": null, "scale": {"domain": ["ch","blue","magenta","teal","olive","orange","env","redthin","redthick"], "range": ["#c6c6c6","#4646ff","#ff40ff","#3aa8a8","#b8b83c","#ff9a3c","#444444","#ff0000","#ff0000"]}}, "strokeWidth": {"field": "s", "type": "nominal", "legend": null, "scale": {"type": "ordinal", "domain": ["ch","blue","magenta","teal","olive","orange","env","redthin","redthick"], "range": [1,1,1,1,1,1,1.1,1.2,2.6]}}}},
          {"data": {"name": "segs"}, "transform": [{"filter": "datum.p == 'b1'"}], "mark": {"type": "rule", "color": "#3c3c3c", "strokeWidth": 0.8}, "encoding": {"x2": {"field": "be2"}, "y2": {"field": "cps2"}}},
          {"data": {"name": "labels"}, "transform": [{"filter": "datum.p == 'b1' && datum.c == 'note'"}], "mark": {"type": "text", "fontSize": 15, "color": "#000000", "align": "center", "baseline": "middle"}, "encoding": {"text": {"field": "t"}}},
          {"data": {"name": "labels"}, "transform": [{"filter": "datum.p == 'b1' && datum.c == 'fit'"}], "mark": {"type": "text", "fontSize": 15, "fontWeight": "bold", "color": "#ff0000", "align": "center", "baseline": "middle"}, "encoding": {"text": {"field": "t"}}},
          {"data": {"name": "boxes"}, "transform": [{"filter": "datum.p == 'b1'"}], "mark": {"type": "point", "shape": "M-0.79,-0.42L1.21,-0.42L1.21,0.84L-0.79,0.84Z", "size": 784, "filled": true, "color": "#000000", "opacity": 1, "strokeWidth": 0}},
          {"data": {"name": "boxes"}, "transform": [{"filter": "datum.p == 'b1'"}], "mark": {"type": "point", "shape": "M-1,-0.63L1,-0.63L1,0.63L-1,0.63Z", "size": 784, "filled": true, "fill": "#ffffff", "stroke": "#000000", "strokeWidth": 1, "opacity": 1}},
          {"data": {"name": "boxes"}, "transform": [{"filter": "datum.p == 'b1'"}], "mark": {"type": "text", "fontSize": 15, "color": "#000000", "align": "center", "baseline": "middle"}, "encoding": {"text": {"field": "t"}}}
        ]
      },
      {
        "data": {"values": [{}]},
        "mark": {"type": "point", "opacity": 0},
        "encoding": {
          "x": {"datum": 290, "type": "quantitative", "scale": {"domain": [281.07, 292.6], "reverse": true, "nice": false, "zero": false}, "axis": {"orient": "top", "values": [282,283,284,285,286,287,288,289,290,291,292], "labels": false, "title": null, "tickSize": -4}},
          "y": {"datum": 0, "type": "quantitative", "scale": {"domain": [0, 20000], "nice": false, "zero": false}, "axis": {"orient": "right", "values": [0,4000,8000,12000,16000,20000], "labels": false, "title": null, "tickSize": -4}}
        }
      }
    ],
    "resolve": {"axis": {"x": "independent", "y": "independent"}}
  },
  {
    "width": 233, "height": 199,
    "layer": [
      {
        "encoding": {
          "x": {"field": "be", "type": "quantitative", "scale": {"domain": [528.36, 538.54], "reverse": true, "nice": false, "zero": false}, "axis": {"values": [529,530,531,532,533,534,535,536,537,538], "labels": false, "title": null, "tickSize": {"condition": {"test": "datum.value % 2 != 0", "value": 3}, "value": 5}}},
          "y": {"field": "cps", "type": "quantitative", "scale": {"domain": [0, 35000], "nice": false, "zero": false}, "axis": {"values": [0,5000,10000,15000,20000,25000,30000,35000], "labelExpr": "datum.value == 0 ? '0' : datum.value == 10000 ? '1x10⁴' : datum.value == 20000 ? '2x10⁴' : datum.value == 30000 ? '3x10⁴' : ''", "tickSize": {"condition": {"test": "datum.value % 10000 != 0", "value": 3}, "value": 5}, "labelPadding": 2, "title": null}}
        },
        "layer": [
          {"data": {"name": "b2"}, "mark": {"type": "line", "interpolate": "monotone", "clip": true}, "encoding": {"color": {"field": "s", "type": "nominal", "legend": null, "scale": {"domain": ["ch","blue","magenta","teal","olive","orange","env","redthin","redthick"], "range": ["#c6c6c6","#4646ff","#ff40ff","#3aa8a8","#b8b83c","#ff9a3c","#444444","#ff0000","#ff0000"]}}, "strokeWidth": {"field": "s", "type": "nominal", "legend": null, "scale": {"type": "ordinal", "domain": ["ch","blue","magenta","teal","olive","orange","env","redthin","redthick"], "range": [1,1,1,1,1,1,1.1,1.2,2.6]}}}},
          {"data": {"name": "segs"}, "transform": [{"filter": "datum.p == 'b2'"}], "mark": {"type": "rule", "color": "#3c3c3c", "strokeWidth": 0.8}, "encoding": {"x2": {"field": "be2"}, "y2": {"field": "cps2"}}},
          {"data": {"name": "labels"}, "transform": [{"filter": "datum.p == 'b2' && datum.c == 'note'"}], "mark": {"type": "text", "fontSize": 15, "color": "#000000", "align": "center", "baseline": "middle"}, "encoding": {"text": {"field": "t"}}},
          {"data": {"name": "labels"}, "transform": [{"filter": "datum.p == 'b2' && datum.c == 'fit'"}], "mark": {"type": "text", "fontSize": 15, "fontWeight": "bold", "color": "#ff0000", "align": "center", "baseline": "middle"}, "encoding": {"text": {"field": "t"}}},
          {"data": {"name": "boxes"}, "transform": [{"filter": "datum.p == 'b2'"}], "mark": {"type": "point", "shape": "M-0.79,-0.42L1.21,-0.42L1.21,0.84L-0.79,0.84Z", "size": 784, "filled": true, "color": "#000000", "opacity": 1, "strokeWidth": 0}},
          {"data": {"name": "boxes"}, "transform": [{"filter": "datum.p == 'b2'"}], "mark": {"type": "point", "shape": "M-1,-0.63L1,-0.63L1,0.63L-1,0.63Z", "size": 784, "filled": true, "fill": "#ffffff", "stroke": "#000000", "strokeWidth": 1, "opacity": 1}},
          {"data": {"name": "boxes"}, "transform": [{"filter": "datum.p == 'b2'"}], "mark": {"type": "text", "fontSize": 15, "color": "#000000", "align": "center", "baseline": "middle"}, "encoding": {"text": {"field": "t"}}}
        ]
      },
      {
        "data": {"values": [{}]},
        "mark": {"type": "point", "opacity": 0},
        "encoding": {
          "x": {"datum": 535, "type": "quantitative", "scale": {"domain": [528.36, 538.54], "reverse": true, "nice": false, "zero": false}, "axis": {"orient": "top", "values": [529,530,531,532,533,534,535,536,537,538], "labels": false, "title": null, "tickSize": -4}},
          "y": {"datum": 0, "type": "quantitative", "scale": {"domain": [0, 35000], "nice": false, "zero": false}, "axis": {"orient": "right", "values": [0,5000,10000,15000,20000,25000,30000,35000], "labels": false, "title": null, "tickSize": -4}}
        }
      }
    ],
    "resolve": {"axis": {"x": "independent", "y": "independent"}}
  },
  {
    "width": 222, "height": 199,
    "layer": [
      {
        "encoding": {
          "x": {"field": "be", "type": "quantitative", "scale": {"domain": [98.87, 108.53], "reverse": true, "nice": false, "zero": false}, "axis": {"values": [99,100,101,102,103,104,105,106,107,108], "labels": false, "title": null, "tickSize": {"condition": {"test": "datum.value % 2 != 0", "value": 3}, "value": 5}}},
          "y": {"field": "cps", "type": "quantitative", "scale": {"domain": [0, 8000], "nice": false, "zero": false}, "axis": {"values": [0,1500,3000,4500,6000,7500], "labelExpr": "datum.value == 0 ? '0,0' : datum.value == 3000 ? '3,0x10³' : datum.value == 6000 ? '6,0x10³' : ''", "tickSize": {"condition": {"test": "datum.value % 3000 != 0", "value": 3}, "value": 5}, "labelPadding": 2, "title": null}}
        },
        "layer": [
          {"data": {"name": "b3"}, "mark": {"type": "line", "interpolate": "monotone", "clip": true}, "encoding": {"color": {"field": "s", "type": "nominal", "legend": null, "scale": {"domain": ["ch","blue","magenta","teal","olive","orange","env","redthin","redthick"], "range": ["#c6c6c6","#4646ff","#ff40ff","#3aa8a8","#b8b83c","#ff9a3c","#444444","#ff0000","#ff0000"]}}, "strokeWidth": {"field": "s", "type": "nominal", "legend": null, "scale": {"type": "ordinal", "domain": ["ch","blue","magenta","teal","olive","orange","env","redthin","redthick"], "range": [1,1,1,1,1,1,1.1,1.2,2.6]}}}},
          {"data": {"name": "labels"}, "transform": [{"filter": "datum.p == 'b3' && datum.c == 'note'"}], "mark": {"type": "text", "fontSize": 15, "color": "#000000", "align": "center", "baseline": "middle"}, "encoding": {"text": {"field": "t"}}},
          {"data": {"name": "labels"}, "transform": [{"filter": "datum.p == 'b3' && datum.c == 'fit'"}], "mark": {"type": "text", "fontSize": 15, "fontWeight": "bold", "color": "#ff0000", "align": "center", "baseline": "middle"}, "encoding": {"text": {"field": "t"}}},
          {"data": {"name": "boxes"}, "transform": [{"filter": "datum.p == 'b3'"}], "mark": {"type": "point", "shape": "M-0.79,-0.42L1.21,-0.42L1.21,0.84L-0.79,0.84Z", "size": 784, "filled": true, "color": "#000000", "opacity": 1, "strokeWidth": 0}},
          {"data": {"name": "boxes"}, "transform": [{"filter": "datum.p == 'b3'"}], "mark": {"type": "point", "shape": "M-1,-0.63L1,-0.63L1,0.63L-1,0.63Z", "size": 784, "filled": true, "fill": "#ffffff", "stroke": "#000000", "strokeWidth": 1, "opacity": 1}},
          {"data": {"name": "boxes"}, "transform": [{"filter": "datum.p == 'b3'"}], "mark": {"type": "text", "fontSize": 15, "color": "#000000", "align": "center", "baseline": "middle"}, "encoding": {"text": {"field": "t"}}}
        ]
      },
      {
        "data": {"values": [{}]},
        "mark": {"type": "point", "opacity": 0},
        "encoding": {
          "x": {"datum": 104, "type": "quantitative", "scale": {"domain": [98.87, 108.53], "reverse": true, "nice": false, "zero": false}, "axis": {"orient": "top", "values": [99,100,101,102,103,104,105,106,107,108], "labels": false, "title": null, "tickSize": -4}},
          "y": {"datum": 0, "type": "quantitative", "scale": {"domain": [0, 8000], "nice": false, "zero": false}, "axis": {"orient": "right", "values": [0,1500,3000,4500,6000,7500], "labels": false, "title": null, "tickSize": -4}}
        }
      }
    ],
    "resolve": {"axis": {"x": "independent", "y": "independent"}}
  },
  {
    "width": 84.6, "height": 199, "view": {"stroke": null},
    "encoding": {
      "x": {"field": "u", "type": "quantitative", "scale": {"domain": [0, 1], "nice": false, "zero": false}, "axis": null},
      "y": {"field": "v", "type": "quantitative", "scale": {"domain": [0, 1], "nice": false, "zero": false}, "axis": null}
    },
    "layer": [
      {"data": {"name": "annot_segs"}, "transform": [{"filter": "datum.r == 'c' && datum.k == 'arrow'"}], "mark": {"type": "rule", "color": "#000000", "strokeWidth": 4}, "encoding": {"x2": {"field": "u2"}, "y2": {"field": "v2"}}},
      {"data": {"name": "annot_heads"}, "transform": [{"filter": "datum.r == 'c'"}], "mark": {"type": "point", "shape": "M-1,-0.55L1,0L-1,0.55Z", "size": 484, "filled": true, "color": "#000000", "opacity": 1}},
      {"data": {"name": "annot_text"}, "transform": [{"filter": "datum.r == 'c'"}], "mark": {"type": "text", "fontSize": 27, "align": "left", "baseline": "middle", "color": "#000000"}, "encoding": {"text": {"field": "t"}}}
    ]
  },
  {
    "width": 233, "height": 199,
    "layer": [
      {
        "encoding": {
          "x": {"field": "be", "type": "quantitative", "scale": {"domain": [281.07, 292.6], "reverse": true, "nice": false, "zero": false}, "axis": {"values": [282,283,284,285,286,287,288,289,290,291,292], "labelExpr": "datum.value % 2 == 0 ? format(datum.value, 'd') : ''", "labelFontSize": 16, "labelColor": "#222222", "labelPadding": 1, "tickSize": {"condition": {"test": "datum.value % 2 != 0", "value": 3}, "value": 5}, "title": "BE [eV]", "titleFontSize": 16, "titlePadding": 22, "titleX": 126}},
          "y": {"field": "cps", "type": "quantitative", "scale": {"domain": [0, 9500], "nice": false, "zero": false}, "axis": {"values": [0,1500,3000,4500,6000,7500,9000], "labelExpr": "datum.value == 0 ? '0,0' : datum.value == 3000 ? '3,0x10³' : datum.value == 6000 ? '6,0x10³' : datum.value == 9000 ? '9,0x10³' : ''", "tickSize": {"condition": {"test": "datum.value % 3000 != 0", "value": 3}, "value": 5}, "labelPadding": 2, "title": "CPS", "titleFontSize": 12, "titlePadding": 8}}
        },
        "layer": [
          {"data": {"name": "c1"}, "mark": {"type": "line", "interpolate": "monotone", "clip": true}, "encoding": {"color": {"field": "s", "type": "nominal", "legend": null, "scale": {"domain": ["ch","blue","magenta","teal","olive","orange","env","redthin","redthick"], "range": ["#c6c6c6","#4646ff","#ff40ff","#3aa8a8","#b8b83c","#ff9a3c","#444444","#ff0000","#ff0000"]}}, "strokeWidth": {"field": "s", "type": "nominal", "legend": null, "scale": {"type": "ordinal", "domain": ["ch","blue","magenta","teal","olive","orange","env","redthin","redthick"], "range": [1,1,1,1,1,1,1.1,1.2,2.6]}}}},
          {"data": {"name": "segs"}, "transform": [{"filter": "datum.p == 'c1'"}], "mark": {"type": "rule", "color": "#3c3c3c", "strokeWidth": 0.8}, "encoding": {"x2": {"field": "be2"}, "y2": {"field": "cps2"}}},
          {"data": {"name": "labels"}, "transform": [{"filter": "datum.p == 'c1' && datum.c == 'note'"}], "mark": {"type": "text", "fontSize": 15, "color": "#000000", "align": "center", "baseline": "middle"}, "encoding": {"text": {"field": "t"}}},
          {"data": {"name": "boxes"}, "transform": [{"filter": "datum.p == 'c1'"}], "mark": {"type": "point", "shape": "M-0.79,-0.42L1.21,-0.42L1.21,0.84L-0.79,0.84Z", "size": 784, "filled": true, "color": "#000000", "opacity": 1, "strokeWidth": 0}},
          {"data": {"name": "boxes"}, "transform": [{"filter": "datum.p == 'c1'"}], "mark": {"type": "point", "shape": "M-1,-0.63L1,-0.63L1,0.63L-1,0.63Z", "size": 784, "filled": true, "fill": "#ffffff", "stroke": "#000000", "strokeWidth": 1, "opacity": 1}},
          {"data": {"name": "boxes"}, "transform": [{"filter": "datum.p == 'c1'"}], "mark": {"type": "text", "fontSize": 15, "color": "#000000", "align": "center", "baseline": "middle"}, "encoding": {"text": {"field": "t"}}}
        ]
      },
      {
        "data": {"values": [{}]},
        "mark": {"type": "point", "opacity": 0},
        "encoding": {
          "x": {"datum": 290, "type": "quantitative", "scale": {"domain": [281.07, 292.6], "reverse": true, "nice": false, "zero": false}, "axis": {"orient": "top", "values": [282,283,284,285,286,287,288,289,290,291,292], "labels": false, "title": null, "tickSize": -4}},
          "y": {"datum": 0, "type": "quantitative", "scale": {"domain": [0, 9500], "nice": false, "zero": false}, "axis": {"orient": "right", "values": [0,1500,3000,4500,6000,7500,9000], "labels": false, "title": null, "tickSize": -4}}
        }
      }
    ],
    "resolve": {"axis": {"x": "independent", "y": "independent"}}
  },
  {
    "width": 233, "height": 199,
    "layer": [
      {
        "encoding": {
          "x": {"field": "be", "type": "quantitative", "scale": {"domain": [528.36, 538.54], "reverse": true, "nice": false, "zero": false}, "axis": {"values": [529,530,531,532,533,534,535,536,537,538], "labelExpr": "datum.value % 2 == 0 ? format(datum.value, 'd') : ''", "labelFontSize": 16, "labelColor": "#222222", "labelPadding": 1, "tickSize": {"condition": {"test": "datum.value % 2 != 0", "value": 3}, "value": 5}, "title": "BE [eV]", "titleFontSize": 16, "titlePadding": 22, "titleX": 125}},
          "y": {"field": "cps", "type": "quantitative", "scale": {"domain": [0, 65000], "nice": false, "zero": false}, "axis": {"values": [0,10000,20000,30000,40000,50000,60000], "labelExpr": "datum.value == 0 ? '0,0' : datum.value == 20000 ? '2,0x10⁴' : datum.value == 40000 ? '4,0x10⁴' : datum.value == 60000 ? '6,0x10⁴' : ''", "tickSize": {"condition": {"test": "datum.value % 20000 != 0", "value": 3}, "value": 5}, "labelPadding": 2, "title": null}}
        },
        "layer": [
          {"data": {"name": "c2"}, "mark": {"type": "line", "interpolate": "monotone", "clip": true}, "encoding": {"color": {"field": "s", "type": "nominal", "legend": null, "scale": {"domain": ["ch","blue","magenta","teal","olive","orange","env","redthin","redthick"], "range": ["#c6c6c6","#4646ff","#ff40ff","#3aa8a8","#b8b83c","#ff9a3c","#444444","#ff0000","#ff0000"]}}, "strokeWidth": {"field": "s", "type": "nominal", "legend": null, "scale": {"type": "ordinal", "domain": ["ch","blue","magenta","teal","olive","orange","env","redthin","redthick"], "range": [1,1,1,1,1,1,1.1,1.2,2.6]}}}},
          {"data": {"name": "segs"}, "transform": [{"filter": "datum.p == 'c2'"}], "mark": {"type": "rule", "color": "#3c3c3c", "strokeWidth": 0.8}, "encoding": {"x2": {"field": "be2"}, "y2": {"field": "cps2"}}},
          {"data": {"name": "labels"}, "transform": [{"filter": "datum.p == 'c2' && datum.c == 'note'"}], "mark": {"type": "text", "fontSize": 15, "color": "#000000", "align": "center", "baseline": "middle"}, "encoding": {"text": {"field": "t"}}},
          {"data": {"name": "labels"}, "transform": [{"filter": "datum.p == 'c2' && datum.c == 'fit'"}], "mark": {"type": "text", "fontSize": 15, "fontWeight": "bold", "color": "#ff0000", "align": "center", "baseline": "middle"}, "encoding": {"text": {"field": "t"}}},
          {"data": {"name": "boxes"}, "transform": [{"filter": "datum.p == 'c2'"}], "mark": {"type": "point", "shape": "M-0.79,-0.42L1.21,-0.42L1.21,0.84L-0.79,0.84Z", "size": 784, "filled": true, "color": "#000000", "opacity": 1, "strokeWidth": 0}},
          {"data": {"name": "boxes"}, "transform": [{"filter": "datum.p == 'c2'"}], "mark": {"type": "point", "shape": "M-1,-0.63L1,-0.63L1,0.63L-1,0.63Z", "size": 784, "filled": true, "fill": "#ffffff", "stroke": "#000000", "strokeWidth": 1, "opacity": 1}},
          {"data": {"name": "boxes"}, "transform": [{"filter": "datum.p == 'c2'"}], "mark": {"type": "text", "fontSize": 15, "color": "#000000", "align": "center", "baseline": "middle"}, "encoding": {"text": {"field": "t"}}}
        ]
      },
      {
        "data": {"values": [{}]},
        "mark": {"type": "point", "opacity": 0},
        "encoding": {
          "x": {"datum": 535, "type": "quantitative", "scale": {"domain": [528.36, 538.54], "reverse": true, "nice": false, "zero": false}, "axis": {"orient": "top", "values": [529,530,531,532,533,534,535,536,537,538], "labels": false, "title": null, "tickSize": -4}},
          "y": {"datum": 0, "type": "quantitative", "scale": {"domain": [0, 65000], "nice": false, "zero": false}, "axis": {"orient": "right", "values": [0,10000,20000,30000,40000,50000,60000], "labels": false, "title": null, "tickSize": -4}}
        }
      }
    ],
    "resolve": {"axis": {"x": "independent", "y": "independent"}}
  },
  {
    "width": 222, "height": 199,
    "layer": [
      {
        "encoding": {
          "x": {"field": "be", "type": "quantitative", "scale": {"domain": [98.87, 108.53], "reverse": true, "nice": false, "zero": false}, "axis": {"values": [99,100,101,102,103,104,105,106,107,108], "labelExpr": "datum.value % 2 == 0 ? format(datum.value, 'd') : ''", "labelFontSize": 16, "labelColor": "#222222", "labelPadding": 1, "tickSize": {"condition": {"test": "datum.value % 2 != 0", "value": 3}, "value": 5}, "title": "BE [eV]", "titleFontSize": 16, "titlePadding": 22, "titleX": 135}},
          "y": {"field": "cps", "type": "quantitative", "scale": {"domain": [0, 10000], "nice": false, "zero": false}, "axis": {"values": [0,2000,4000,6000,8000,10000], "labelExpr": "datum.value == 0 ? '0,0' : datum.value == 4000 ? '4,0x10³' : datum.value == 8000 ? '8,0x10³' : ''", "tickSize": {"condition": {"test": "datum.value % 4000 != 0", "value": 3}, "value": 5}, "labelPadding": 2, "title": null}}
        },
        "layer": [
          {"data": {"name": "c3"}, "mark": {"type": "line", "interpolate": "monotone", "clip": true}, "encoding": {"color": {"field": "s", "type": "nominal", "legend": null, "scale": {"domain": ["ch","blue","magenta","teal","olive","orange","env","redthin","redthick"], "range": ["#c6c6c6","#4646ff","#ff40ff","#3aa8a8","#b8b83c","#ff9a3c","#444444","#ff0000","#ff0000"]}}, "strokeWidth": {"field": "s", "type": "nominal", "legend": null, "scale": {"type": "ordinal", "domain": ["ch","blue","magenta","teal","olive","orange","env","redthin","redthick"], "range": [1,1,1,1,1,1,1.1,1.2,2.6]}}}},
          {"data": {"name": "labels"}, "transform": [{"filter": "datum.p == 'c3' && datum.c == 'fit'"}], "mark": {"type": "text", "fontSize": 15, "fontWeight": "bold", "color": "#ff0000", "align": "center", "baseline": "middle"}, "encoding": {"text": {"field": "t"}}},
          {"data": {"name": "boxes"}, "transform": [{"filter": "datum.p == 'c3'"}], "mark": {"type": "point", "shape": "M-0.79,-0.42L1.21,-0.42L1.21,0.84L-0.79,0.84Z", "size": 784, "filled": true, "color": "#000000", "opacity": 1, "strokeWidth": 0}},
          {"data": {"name": "boxes"}, "transform": [{"filter": "datum.p == 'c3'"}], "mark": {"type": "point", "shape": "M-1,-0.63L1,-0.63L1,0.63L-1,0.63Z", "size": 784, "filled": true, "fill": "#ffffff", "stroke": "#000000", "strokeWidth": 1, "opacity": 1}},
          {"data": {"name": "boxes"}, "transform": [{"filter": "datum.p == 'c3'"}], "mark": {"type": "text", "fontSize": 15, "color": "#000000", "align": "center", "baseline": "middle"}, "encoding": {"text": {"field": "t"}}}
        ]
      },
      {
        "data": {"values": [{}]},
        "mark": {"type": "point", "opacity": 0},
        "encoding": {
          "x": {"datum": 104, "type": "quantitative", "scale": {"domain": [98.87, 108.53], "reverse": true, "nice": false, "zero": false}, "axis": {"orient": "top", "values": [99,100,101,102,103,104,105,106,107,108], "labels": false, "title": null, "tickSize": -4}},
          "y": {"datum": 0, "type": "quantitative", "scale": {"domain": [0, 10000], "nice": false, "zero": false}, "axis": {"orient": "right", "values": [0,2000,4000,6000,8000,10000], "labels": false, "title": null, "tickSize": -4}}
        }
      }
    ],
    "resolve": {"axis": {"x": "independent", "y": "independent"}}
  }
]
}
